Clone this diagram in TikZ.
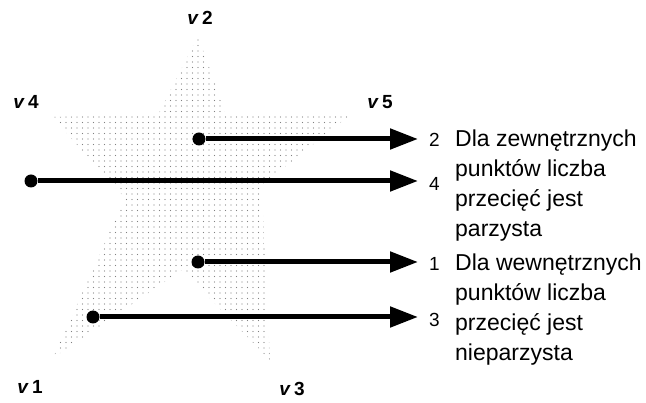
\documentclass[tikz,border=0pt]{standalone}
\usepackage{fontspec}
\setmainfont{Liberation Sans}
\usetikzlibrary{arrows.meta, patterns.meta}

\begin{document}
\begin{tikzpicture}[
    x=1pt, y=-1pt,
    every node/.style={inner sep=0pt},
    star/.style={pattern={Dots[radius=0.7pt, distance=5.5pt]}, pattern color=black!50},
    startdot/.style={circle, fill=black, minimum size=13pt},
    ray/.style={-{Triangle[length=28pt, width=20pt]}, line width=5pt},
    vlabel/.style={font=\fontsize{19}{19}\selectfont\bfseries},
    num/.style={font=\fontsize{19}{19}\selectfont, anchor=west},
    note/.style={font=\fontsize{23}{30}\selectfont, align=left, anchor=north west}
]
\useasboundingbox (0,0) rectangle (646,403);

\path[star] (198,36) -- (226,115) -- (350,115) -- (262,185) -- (270,360)
    -- (182,270) -- (53,358) -- (125,198) -- (52,117) -- (158,115) -- cycle;

\node[vlabel] (v1) at ( 30,387) {\textit{v}\,1};
\node[vlabel] (v2) at (200, 18) {\textit{v}\,2};
\node[vlabel] (v3) at (292,389) {\textit{v}\,3};
\node[vlabel] (v4) at ( 26,102) {\textit{v}\,4};
\node[vlabel] (v5) at (380,102) {\textit{v}\,5};

\node[startdot] (s2) at (199,139) {};
\node[startdot] (s4) at ( 31,181) {};
\node[startdot] (s1) at (198,262) {};
\node[startdot] (s3) at ( 93,317) {};

\coordinate (e2) at (418,139);
\coordinate (e4) at (418,181);
\coordinate (e1) at (418,262);
\coordinate (e3) at (418,317);

\draw[ray] (s2) -- (e2);
\draw[ray] (s4) -- (e4);
\draw[ray] (s1) -- (e1);
\draw[ray] (s3) -- (e3);

\node[num] (n2) at (429,140) {2};
\node[num] (n4) at (429,184) {4};
\node[num] (n1) at (429,264) {1};
\node[num] (n3) at (429,320) {3};

\node[note] (outer) at (455,130) {Dla zewnętrznych\\punktów liczba\\przecięć jest\\parzysta};
\node[note] (inner) at (455,254) {Dla wewnętrznych\\punktów liczba\\przecięć jest\\nieparzysta};
\end{tikzpicture}
\end{document}
